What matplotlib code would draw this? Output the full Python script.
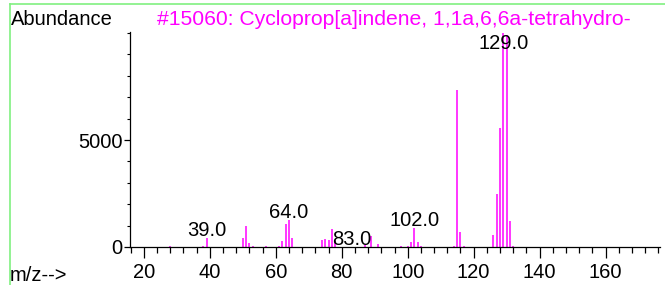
import matplotlib
matplotlib.use("Agg")
import matplotlib.pyplot as plt
from matplotlib.lines import Line2D
from matplotlib.ticker import MultipleLocator
import numpy as np

plt.rcParams['font.family'] = ['Liberation Sans', 'DejaVu Sans']

# peak list (m/z, abundance)
mz = [28, 38, 39, 50, 51, 52, 53, 57, 61, 62, 63, 64, 65, 74, 75, 76, 77, 78, 83,
      87, 89, 91, 98, 100, 101, 102, 103, 104, 114, 115, 116, 117,
      126, 127, 128, 129, 130, 131, 132]
abundance = [60, 70, 440, 420, 990, 200, 50, 40, 40, 260, 1060, 1280, 430, 340, 375, 310, 840, 280, 20,
             110, 520, 120, 50, 40, 230, 870, 230, 50, 50, 7320, 700, 40,
             545, 2460, 5545, 10000, 9900, 1215, 40]
labelled = [39, 64, 83, 102, 129]
title = "#15060: Cycloprop[a]indene, 1,1a,6,6a-tetrahydro-"

W, H = 665, 285
fig = plt.figure(figsize=(W / 100, H / 100), dpi=100)
ax = fig.add_axes([130 / W, 38 / H, 530 / W, 215 / H])

ax.vlines(mz, 0, abundance, color='#ff00ff', linewidth=1.1)

fs = 14.5
for m in labelled:
    val = abundance[mz.index(m)]
    ax.annotate(f"{m:.1f}", (m, min(val, 9150)), xytext=(0, 2), textcoords='offset pixels',
                ha='center', va='baseline', fontsize=fs, color='black')

ax.set_xlim(15.8, 176.5)
ax.set_ylim(0, 10050)
ax.xaxis.set_major_locator(MultipleLocator(20))
ax.xaxis.set_minor_locator(MultipleLocator(4))
ax.set_xticks(np.arange(20, 161, 20))
ax.set_yticks([0, 5000])
ax.yaxis.set_minor_locator(MultipleLocator(1000))

for s in ['top', 'right']:
    ax.spines[s].set_visible(False)
ax.spines['left'].set_linewidth(0.9)
ax.spines['bottom'].set_linewidth(0.9)
ax.tick_params(axis='x', which='major', direction='out', length=8, width=0.9, pad=3.5, labelsize=fs)
ax.tick_params(axis='x', which='minor', direction='out', length=4, width=0.9)
ax.tick_params(axis='y', which='major', direction='out', length=4, width=0.9, pad=1.5, labelsize=fs)
ax.tick_params(axis='y', which='minor', direction='out', length=2.5, width=0.8)

fig.text(11 / W, 1 - 25 / H, "Abundance", fontsize=fs, va='baseline', ha='left')
fig.text(157 / W, 1 - 25 / H, title, fontsize=15.2, va='baseline', ha='left', color='#ff00ff')
fig.text(10 / W, 1 - 281 / H, "m/z-->", fontsize=fs, va='baseline', ha='left')

# green frame on top and left edges
green = '#80f080'
fig.add_artist(Line2D([9.5 / W, 1], [1 - 3.5 / H, 1 - 3.5 / H], color=green, linewidth=1.2,
                      transform=fig.transFigure))
fig.add_artist(Line2D([9.5 / W, 9.5 / W], [0, 1 - 3.5 / H], color=green, linewidth=1.2,
                      transform=fig.transFigure))

fig.savefig("out.png", dpi=100)
